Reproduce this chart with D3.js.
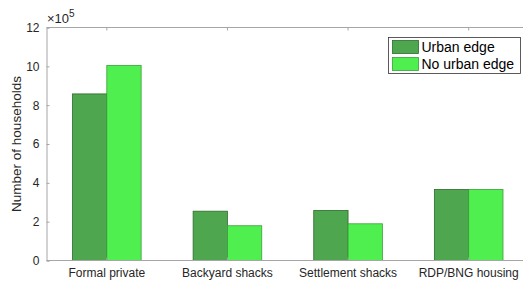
<!DOCTYPE html>
<html>
<head>
<meta charset="utf-8">
<script src="https://cdn.jsdelivr.net/npm/d3@7"></script>
<style>
body { margin: 0; background: #fff; }
svg { display: block; font-family: "Liberation Sans", Arial, sans-serif; }
</style>
</head>
<body>
<div class="container"></div>
<script>
const w = 523;
const h = 282;

const categories = ["Formal private", "Backyard shacks", "Settlement shacks", "RDP/BNG housing"];
const seriesNames = ["Urban edge", "No urban edge"];
const urbanEdge = [8.58, 2.54, 2.58, 3.66];
const noUrbanEdge = [10.05, 1.79, 1.89, 3.66];
const yTicks = [0, 2, 4, 6, 8, 10, 12];
const colors = ["#4ea64e", "#50ef50"];
const strokes = ["#2f6a2f", "#3a9e3a"];

const padL = 46.5, padR = 529, padT = 27.5, padB = 260.5;

const svg = d3.select(".container").append("svg")
  .attr("width", w).attr("height", h);

const x = d3.scaleBand().domain(categories).range([padL, padR]).paddingInner(0).paddingOuter(0);
const xInner = d3.scaleBand().domain(seriesNames).range([0, x.bandwidth() * 0.569]);
const y = d3.scaleLinear().domain([0, 12]).range([padB, padT]);

const rows = categories.map((c, i) => ({ cat: c, vals: [urbanEdge[i], noUrbanEdge[i]] }));

const groups = svg.selectAll("g.grp").data(rows).enter().append("g")
  .attr("class", "grp")
  .attr("transform", d => `translate(${x(d.cat) + (x.bandwidth() - xInner.range()[1]) / 2},0)`);

groups.selectAll("rect").data(d => d.vals.map((v, j) => ({ v, j })))
  .enter().append("rect")
  .attr("x", d => xInner(seriesNames[d.j]))
  .attr("width", xInner.bandwidth())
  .attr("y", d => y(d.v))
  .attr("height", d => y(0) - y(d.v))
  .attr("fill", d => colors[d.j])
  .attr("stroke", d => strokes[d.j])
  .attr("stroke-width", 0.8);

// box
const axisColor = "#a6a6a6";
svg.append("line").attr("x1", padL).attr("x2", w).attr("y1", padT).attr("y2", padT).attr("stroke", axisColor);
svg.append("line").attr("x1", padL).attr("x2", w).attr("y1", padB).attr("y2", padB).attr("stroke", axisColor);

const yAxis = d3.axisLeft(y).tickValues(yTicks).tickSize(-3).tickPadding(7);
const gy = svg.append("g").attr("transform", `translate(${padL},0)`).call(yAxis);
gy.select(".domain").attr("stroke", axisColor);
gy.selectAll(".tick line").attr("stroke", axisColor);
gy.selectAll("text").attr("fill", "#262626").style("font-size", "12px").style("font-family", "Liberation Sans, Arial, sans-serif");

const xAxis = d3.axisBottom(x).tickSize(-3).tickPadding(8);
const gx = svg.append("g").attr("transform", `translate(0,${padB})`).call(xAxis);
gx.select(".domain").remove();
gx.selectAll(".tick line").attr("stroke", axisColor);
gx.selectAll("text").attr("fill", "#262626").style("font-size", "12px").style("font-family", "Liberation Sans, Arial, sans-serif");

// top ticks
svg.selectAll("line.tt").data(categories).enter().append("line")
  .attr("x1", d => x(d) + x.bandwidth() / 2).attr("x2", d => x(d) + x.bandwidth() / 2)
  .attr("y1", padT).attr("y2", padT + 3).attr("stroke", axisColor);

// exponent
const ex = svg.append("text").attr("x", 47).attr("y", 23).attr("fill", "#262626").style("font-size", "13px");
ex.append("tspan").text("\u00d710");
ex.append("tspan").attr("dy", -6).style("font-size", "10px").text("5");

svg.append("text")
  .attr("transform", `translate(21,${(padT + padB) / 2}) rotate(-90)`)
  .attr("text-anchor", "middle")
  .attr("fill", "#262626")
  .style("font-size", "13.5px")
  .text("Number of households");

// legend
const lg = svg.append("g").attr("transform", "translate(388.5,37.5)");
lg.append("rect").attr("width", 132).attr("height", 36).attr("fill", "#fff").attr("stroke", "#333").attr("stroke-width", 0.8);
seriesNames.forEach((s, i) => {
  lg.append("rect").attr("x", 4).attr("y", 3 + i * 17).attr("width", 26).attr("height", 13)
    .attr("fill", colors[i]).attr("stroke", strokes[i]).attr("stroke-width", 0.8);
  lg.append("text").attr("x", 33).attr("y", 14.5 + i * 17).attr("fill", "#000")
    .style("font-size", "14px").text(s);
});
</script>
</body>
</html>
